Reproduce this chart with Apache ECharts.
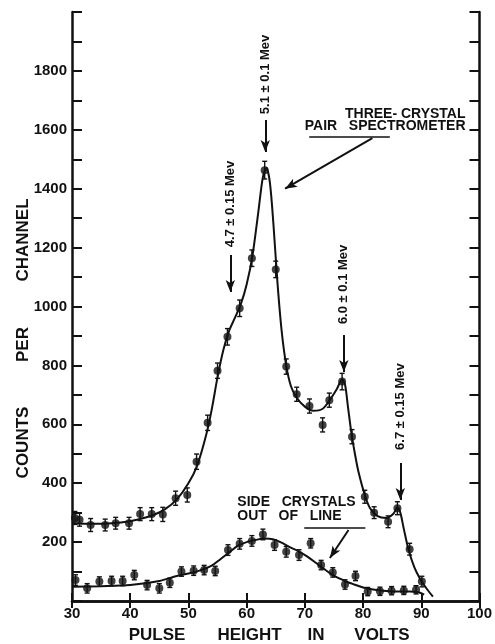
<!DOCTYPE html>
<html>
<head>
<meta charset="utf-8">
<script src="https://cdn.jsdelivr.net/npm/echarts@6/dist/echarts.min.js"></script>
<style>
html, body { margin: 0; padding: 0; background: #fff; }
#main { width: 495px; height: 644px; }
</style>
</head>
<body>
<div id="main"></div>
<script>
// three-crystal pair spectrometer: measured points [volts, counts]
var pairPoints = [
	[30.5, 282], [31.3, 276], [33.2, 258], [35.7, 258], [37.5, 264], [39.8, 264],
	[41.7, 295], [43.7, 295], [45.6, 294], [47.8, 349], [49.8, 360], [51.4, 473],
	[53.3, 605], [55.0, 782], [56.7, 897], [58.8, 994], [60.9, 1164], [63.1, 1463],
	[65.0, 1126], [66.8, 796], [68.6, 702], [70.8, 662], [73.05, 598], [74.2, 682],
	[76.4, 745], [78.1, 558], [80.3, 354], [81.9, 300], [84.3, 269], [85.9, 315],
	[88.0, 176], [90.1, 66]
];
var pairErr = [
	22, 22, 22, 20, 20, 20, 22, 22, 24, 24, 24, 26,
	26, 26, 28, 28, 28, 30, 28, 26, 24, 24, 24, 24,
	28, 24, 22, 20, 20, 22, 20, 18
];
// fitted curve
var pairCurve = [
	[30, 265], [33, 262], [36, 263], [39, 268], [42, 280], [44, 292], [46, 312],
	[48, 345], [50, 400], [51.5, 460], [53, 560], [54, 650], [55, 760], [56, 852],
	[57, 918], [58, 962], [59, 1008], [60, 1075], [61, 1172], [62, 1320], [62.8, 1440],
	[63.4, 1470], [64, 1420], [64.6, 1280], [65.3, 1080], [66, 920], [66.8, 800],
	[67.6, 730], [68.6, 690], [70, 660], [71.5, 646], [73, 652], [74.2, 680],
	[75.5, 720], [76.4, 752], [76.9, 735], [77.4, 660], [78, 570], [78.6, 500],
	[79.2, 440], [80.3, 360], [81.2, 315], [82.5, 288], [84, 282], [85.2, 296],
	[85.9, 318], [86.4, 300], [87, 245], [87.8, 175], [88.8, 115], [89.8, 75],
	[91, 40], [92, 15]
];

// side crystals out of line
var sidePoints = [
	[30.6, 71], [32.6, 43], [34.7, 66], [36.8, 68], [38.7, 68], [40.7, 88],
	[42.9, 54], [45.0, 43], [46.8, 62], [48.8, 100], [50.9, 103], [52.7, 105],
	[54.6, 102], [56.8, 173], [58.8, 194], [60.9, 204], [62.8, 226], [64.8, 190],
	[66.8, 167], [69.0, 156], [71.0, 196], [72.8, 122], [74.8, 97], [76.9, 56],
	[78.7, 85], [80.8, 32], [82.9, 33], [84.9, 35], [87.0, 36], [89.1, 38]
];
var sideErr = [
	18, 16, 16, 16, 16, 16, 16, 16, 16, 16, 16, 16,
	16, 18, 18, 18, 18, 18, 18, 18, 16, 16, 16, 16,
	16, 14, 14, 14, 14, 14
];
var sideCurve = [
	[30, 48], [35, 50], [40, 54], [45, 68], [48, 85], [50.2, 94], [52, 104],
	[54, 120], [55.5, 142], [57, 165], [58.5, 188], [60, 200], [61.5, 207],
	[63, 212], [64.5, 210], [66, 198], [67.5, 182], [69, 168], [70.5, 150],
	[72, 128], [73.5, 106], [75, 86], [76.9, 68], [78.5, 56], [80, 46],
	[82, 38], [84, 34], [86, 32], [88, 32], [89.5, 30], [90.5, 22]
];

var yLabels = [200, 400, 600, 800, 1000, 1200, 1400, 1600, 1800];

// energy markers: label, volts, label centre / arrow start / arrow tip in counts
var lineNames = ['4.7 ± 0.15 Mev', '5.1 ± 0.1 Mev', '6.0 ± 0.1 Mev', '6.7 ± 0.15 Mev'];
var lineVolts = [57.2, 63.2, 76.7, 86.4];
var lineLabelY = [1348, 1788, 1075, 660];
var lineArrowFrom = [1175, 1633, 903, 469];
var lineArrowTo = [1049, 1525, 778, 343];

var FONT = '"Liberation Sans", Arial, sans-serif';
var INK = '#111';

var chart = echarts.init(document.getElementById('main'));

function withErr(points, errs) {
	return points.map(function (p, i) { return [p[0], p[1], errs[i]]; });
}

// vertical error bar with small caps
function errorBar(params, api) {
	var x = api.value(0), y = api.value(1), e = api.value(2);
	var hi = api.coord([x, y + e]);
	var lo = api.coord([x, y - e]);
	var w = 2.5;
	var st = { stroke: INK, lineWidth: 1.4 };
	return {
		type: 'group',
		children: [
			{ type: 'line', shape: { x1: hi[0], y1: hi[1], x2: lo[0], y2: lo[1] }, style: st },
			{ type: 'line', shape: { x1: hi[0] - w, y1: hi[1], x2: hi[0] + w, y2: hi[1] }, style: st },
			{ type: 'line', shape: { x1: lo[0] - w, y1: lo[1], x2: lo[0] + w, y2: lo[1] }, style: st }
		]
	};
}

// arrows under the energy labels plus the two pointer arrows
var arrows = lineVolts.map(function (v, i) {
	return [{ coord: [v, lineArrowFrom[i]] }, { coord: [v, lineArrowTo[i]] }];
});
arrows.push([{ coord: [81.6, 1572] }, { coord: [66.6, 1400] }]);
arrows.push([{ coord: [77.5, 241] }, { coord: [74.3, 146] }]);

var underlines = [
	[{ coord: [70.75, 1576] }, { coord: [84.6, 1576] }],
	[{ coord: [69.9, 248] }, { coord: [80.4, 248] }]
];

var axisText = { color: INK, fontFamily: FONT, fontWeight: 'bold', fontSize: 15 };

var option = {
	animation: false,
	backgroundColor: '#fff',
	grid: { left: 72, right: 9, top: 12, bottom: 43 },
	xAxis: [{
		type: 'value', min: 30, max: 100, interval: 10,
		axisLine: { lineStyle: { color: INK, width: 2.5 } },
		axisTick: { inside: true, length: 8, lineStyle: { color: INK, width: 2 } },
		axisLabel: Object.assign({ margin: 5 }, axisText),
		splitLine: { show: false }
	}, {
		type: 'value', min: 30, max: 100, interval: 10, position: 'top',
		axisLine: { lineStyle: { color: INK, width: 2.5 } },
		axisTick: { inside: true, length: 7, lineStyle: { color: INK, width: 2 } },
		axisLabel: { show: false },
		splitLine: { show: false }
	}],
	yAxis: [{
		type: 'value', min: 0, max: 2000, interval: 100,
		axisLine: { show: true, lineStyle: { color: INK, width: 2.5 } },
		axisTick: { show: true, inside: true, length: 10, lineStyle: { color: INK, width: 2 } },
		axisLabel: Object.assign({
			margin: 5,
			formatter: function (v) { return yLabels.indexOf(v) >= 0 ? String(v) : ''; }
		}, axisText),
		splitLine: { show: false }
	}, {
		type: 'value', min: 0, max: 2000, interval: 100, position: 'right',
		axisLine: { show: true, lineStyle: { color: INK, width: 2.5 } },
		axisTick: { show: true, inside: true, length: 10, lineStyle: { color: INK, width: 2 } },
		axisLabel: { show: false },
		splitLine: { show: false }
	}],
	series: [
		{
			name: 'pair curve', type: 'line', data: pairCurve,
			smooth: 0.3, showSymbol: false, symbol: 'none',
			lineStyle: { color: INK, width: 2 },
			markLine: {
				silent: true, symbol: ['none', 'arrow'], symbolSize: [7, 12],
				label: { show: false },
				lineStyle: { color: INK, width: 2, type: 'solid' },
				data: arrows
			}
		},
		{
			name: 'side curve', type: 'line', data: sideCurve,
			smooth: 0.3, showSymbol: false, symbol: 'none',
			lineStyle: { color: INK, width: 2 },
			markLine: {
				silent: true, symbol: ['none', 'none'],
				label: { show: false },
				lineStyle: { color: INK, width: 1.6, type: 'solid' },
				data: underlines
			}
		},
		{
			name: 'pair err', type: 'custom', renderItem: errorBar,
			data: withErr(pairPoints, pairErr), z: 3
		},
		{
			name: 'side err', type: 'custom', renderItem: errorBar,
			data: withErr(sidePoints, sideErr), z: 3
		},
		{
			name: 'pair points', type: 'scatter', data: pairPoints,
			symbol: 'circle', symbolSize: 8, itemStyle: { color: INK }, z: 4
		},
		{
			name: 'side points', type: 'scatter', data: sidePoints,
			symbol: 'circle', symbolSize: 8, itemStyle: { color: INK }, z: 4
		}
	]
};
chart.setOption(option);

// texts placed through the chart's own scales
function px(x, y) {
	return chart.convertToPixel({ xAxisIndex: 0, yAxisIndex: 0 }, [x, y]);
}
function txt(pos, text, size, align, rot) {
	return {
		type: 'text', x: pos[0], y: pos[1], rotation: rot || 0,
		style: {
			text: text, fill: INK, fontFamily: FONT, fontWeight: 'bold', fontSize: size,
			align: align || 'center', verticalAlign: 'middle', lineHeight: size
		}
	};
}

var graphics = lineNames.map(function (name, i) {
	return txt(px(lineVolts[i], lineLabelY[i]), name, 13, 'center', Math.PI / 2);
});
graphics.push(txt(px(97.6, 1652), 'THREE- CRYSTAL', 14, 'right'));
graphics.push(txt(px(97.6, 1611), 'PAIR   SPECTROMETER', 14, 'right'));
graphics.push(txt(px(58.4, 336), 'SIDE   CRYSTALS', 14, 'left'));
graphics.push(txt(px(58.4, 289), 'OUT   OF   LINE', 14, 'left'));

// axis titles, word by word
var xTitle = [['PULSE', 157], ['HEIGHT', 249.5], ['IN', 316], ['VOLTS', 382]];
xTitle.forEach(function (w) { graphics.push(txt([w[1], 635], w[0], 17)); });
var yTitle = [['COUNTS', 442.5], ['PER', 344.5], ['CHANNEL', 240]];
yTitle.forEach(function (w) { graphics.push(txt([23, w[1]], w[0], 17, 'center', Math.PI / 2)); });

chart.setOption({ graphic: graphics });
</script>
</body>
</html>
